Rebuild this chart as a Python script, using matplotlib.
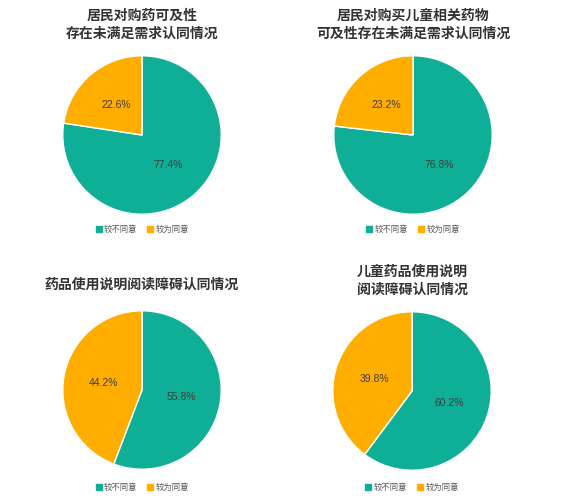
import matplotlib.pyplot as plt
from matplotlib.lines import Line2D

plt.rcParams['font.family'] = ['Noto Sans CJK SC', 'DejaVu Sans']

titles = ["居民对购药可及性\n存在未满足需求认同情况",
          "居民对购买儿童相关药物\n可及性存在未满足需求认同情况",
          "药品使用说明阅读障碍认同情况",
          "儿童药品使用说明\n阅读障碍认同情况"]
labels = ["较不同意", "较为同意"]
disagree = [77.4, 76.8, 55.8, 60.2]
agree = [22.6, 23.2, 44.2, 39.8]
colors = ["#0FAE96", "#FFAE00"]

W, H = 561, 501
fig = plt.figure(figsize=(W / 100, H / 100), dpi=100)

# pie centres (px) and radius, title y's, legend y
centres = [(142, 135), (413, 135), (142, 390), (412, 391)]
R = 80
title_y = [25, 25, 285, 281]
legend_y = [229, 229, 487, 487]

for i in range(4):
    cx, cy = centres[i]
    ax = fig.add_axes([(cx - R) / W, 1 - (cy + R) / H, 2 * R / W, 2 * R / H])
    ax.pie([disagree[i], agree[i]], colors=colors, startangle=90, counterclock=False,
           labels=[f"{disagree[i]}%", f"{agree[i]}%"], labeldistance=0.5,
           wedgeprops=dict(edgecolor="white", linewidth=1),
           textprops=dict(fontsize=7.5, color="#3d3d3d", ha="center", va="center",
                          family="Liberation Sans"))
    ax.set_xlim(-1.01, 1.01)
    ax.set_ylim(-1.01, 1.01)
    ax.set_aspect("equal")
    fig.text(cx / W, 1 - title_y[i] / H, titles[i], ha="center", va="center",
             fontsize=10, fontweight="bold", color="#333333", linespacing=1.4)
    handles = [Line2D([], [], marker="s", linestyle="", color=c, markersize=3.8) for c in colors]
    fig.legend(handles, labels, loc="center", bbox_to_anchor=(cx / W, 1 - legend_y[i] / H),
               ncol=2, frameon=False, fontsize=6, labelcolor="#555555",
               handletextpad=0.2, columnspacing=1.2, handlelength=0.8)

fig.savefig("out.png", dpi=100, facecolor="white")
